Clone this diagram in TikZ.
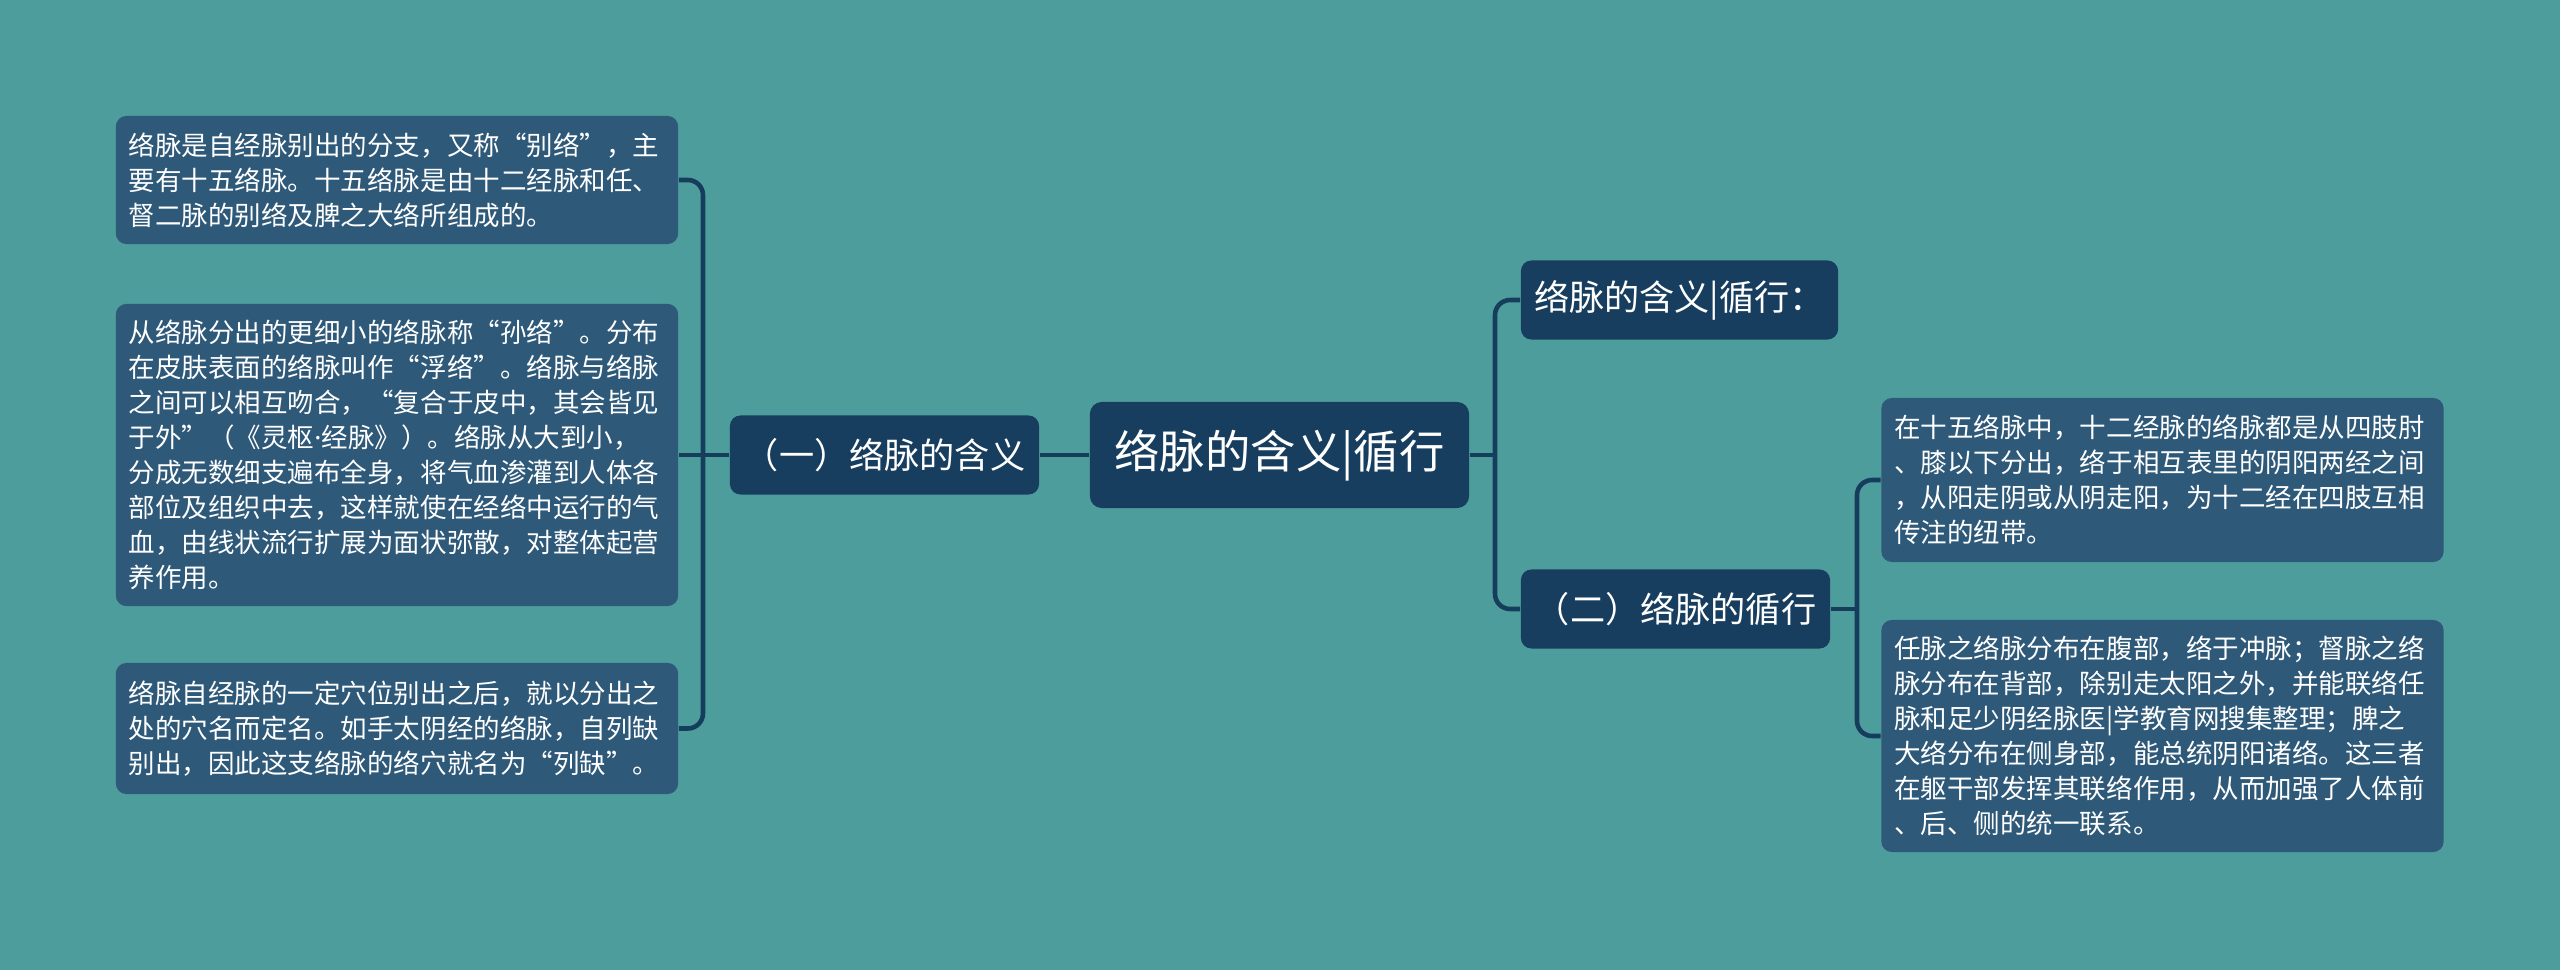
\documentclass[tikz,border=0pt]{standalone}
\usepackage{fontspec}
\setmainfont{Noto Sans CJK SC}
\newfontfamily\latinfont{Noto Sans}
\usetikzlibrary{positioning}
\definecolor{bgteal}{RGB}{78,157,157}
\definecolor{topic}{RGB}{23,62,94}
\definecolor{leaf}{RGB}{46,89,121}
\definecolor{wire}{RGB}{22,61,92}

\tikzset{
  rootbox/.style={fill=topic, text=white, rounded corners=3.4pt, inner sep=0pt,
    font=\fontsize{12.9pt}{15pt}\selectfont, minimum width=3.79cm, minimum height=1.06cm},
  subbox/.style={fill=topic, text=white, rounded corners=3pt, inner sep=0pt,
    font=\fontsize{10pt}{12pt}\selectfont, minimum height=0.79cm},
  leafbox/.style={fill=leaf, text=white, rounded corners=3pt, text width=5.36cm, align=left,
    inner xsep=0.13cm, inner ysep=0pt, font=\fontsize{7.54pt}{9.96pt}\selectfont},
  link/.style={draw=wire, line width=1.3pt},
}

\begin{document}
\begin{tikzpicture}[x=0.01cm, y=-0.01cm]
\fill[bgteal] (0,0) rectangle (2560,970);
\useasboundingbox (0,0) rectangle (2560,970);

% Central topic
\node[rootbox] (root) at (1279.5,455) {络脉的含义|循行};

% Left branch
\node[subbox, minimum width=3.09cm] (hanyi) at (884.5,455) {（一）络脉的含义};
\node[leafbox, minimum height=1.28cm] (hy1) at (397,180) {络脉是自经脉别出的分支，又称“别络”，主\\要有十五络脉。十五络脉是由十二经脉和任、\\督二脉的别络及脾之大络所组成的。};
\node[leafbox, minimum height=3.02cm] (hy2) at (397,455) {从络脉分出的更细小的络脉称“孙络”。分布\\在皮肤表面的络脉叫作“浮络”。络脉与络脉\\之间可以相互吻合，“复合于皮中，其会皆见\\于外”（《灵枢{\latinfont ·}经脉》）。络脉从大到小，\\分成无数细支遍布全身，将气血渗灌到人体各\\部位及组织中去，这样就使在经络中运行的气\\血，由线状流行扩展为面状弥散，对整体起营\\养作用。};
\node[leafbox, minimum height=1.31cm] (hy3) at (397,728.5) {络脉自经脉的一定穴位别出之后，就以分出之\\处的穴名而定名。如手太阴经的络脉，自列缺\\别出，因此这支络脉的络穴就名为“列缺”。};

% Right branch
\node[subbox, minimum width=3.17cm] (title) at (1679.5,300) {络脉的含义|循行：};
\node[subbox, minimum width=3.09cm] (xunxing) at (1675.5,609) {（二）络脉的循行};
\node[leafbox, minimum height=1.64cm] (xx1) at (2162.5,480) {在十五络脉中，十二经脉的络脉都是从四肢肘\\、膝以下分出，络于相互表里的阴阳两经之间\\，从阳走阴或从阴走阳，为十二经在四肢互相\\传注的纽带。};
\node[leafbox, minimum height=2.32cm] (xx2) at (2162.5,736) {任脉之络脉分布在腹部，络于冲脉；督脉之络\\脉分布在背部，除别走太阳之外，并能联络任\\脉和足少阴经脉医|学教育网搜集整理；脾之\\大络分布在侧身部，能总统阴阳诸络。这三者\\在躯干部发挥其联络作用，从而加强了人体前\\、后、侧的统一联系。};

% Connectors
\coordinate (lj) at (703,455);
\coordinate (rj) at (1495,455);
\coordinate (xj) at (1857,609);
\draw[link] (root) -- (hanyi);
\draw[link] (hanyi.west) -- (lj);
\draw[link, rounded corners=4.3pt] (lj) |- (hy1.east);
\draw[link] (lj) -- (hy2.east);
\draw[link, rounded corners=4.3pt] (lj) |- (hy3.east);
\draw[link] (root.east) -- (rj);
\draw[link, rounded corners=4.3pt] (rj) |- (title.west);
\draw[link, rounded corners=4.3pt] (rj) |- (xunxing.west);
\draw[link] (xunxing.east) -- (xj);
\draw[link, rounded corners=4.3pt] (xj) |- (xx1.west);
\draw[link, rounded corners=4.3pt] (xj) |- (xx2.west);
\end{tikzpicture}
\end{document}
